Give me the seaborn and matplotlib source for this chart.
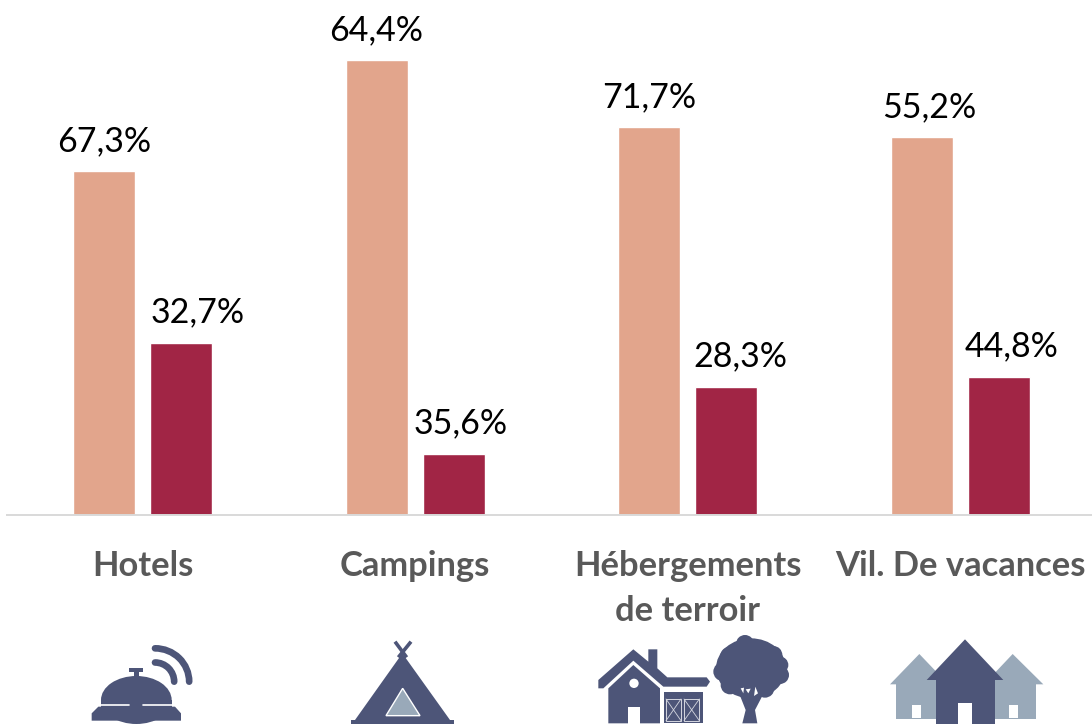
import pandas as pd
import seaborn as sns
import matplotlib.pyplot as plt
from matplotlib.patches import Polygon, Rectangle, Circle, Ellipse, Arc

# --- data ---
categories = ['Hotels', 'Campings', 'Hébergements\nde terroir', 'Vil. De vacances']
series_names = ['Série 1', 'Série 2']
# drawn bar heights (the picture's bars do not follow their printed labels)
heights_1 = [344, 455, 388, 378]
heights_2 = [172, 61, 128, 138]
labels_1 = ['67,3%', '64,4%', '71,7%', '55,2%']
labels_2 = ['32,7%', '35,6%', '28,3%', '44,8%']
# sideways shift of the labels, in pixels
shift_1 = [0, 0, 0, 8]
shift_2 = [16, 7, 14, 13]

df = pd.DataFrame({
    'cat': categories * 2,
    'serie': [series_names[0]] * 4 + [series_names[1]] * 4,
    'val': heights_1 + heights_2,
})

sns.set_theme(style='white')
plt.rcParams['font.family'] = ['Lato', 'DejaVu Sans']

W, H = 1092, 724
fig = plt.figure(figsize=(W / 100, H / 100), dpi=100)

# bar area, in figure fractions
ax = fig.add_axes([6.5 / W, 1 - 514.5 / H, 1090 / W, 514.5 / H])
sns.barplot(data=df, x='cat', y='val', hue='serie', order=categories,
            palette=['#E2A58C', '#A12545'], width=0.568, gap=0.2,
            saturation=1, legend=False, ax=ax)
ax.set_xlim(-0.5, 3.5)
ax.set_ylim(0, 514.5)
ax.set_xlabel('')
ax.set_ylabel('')
ax.set_yticks([])
ax.tick_params(axis='x', length=0, pad=25.6, labelsize=24.8, labelcolor='#595959')
for t in ax.get_xticklabels():
    t.set_fontweight('bold')
    t.set_linespacing(1.5)
sns.despine(ax=ax, left=True)
ax.spines['bottom'].set_color('#D9D9D9')
ax.spines['bottom'].set_linewidth(1.4)
ax.patch.set_alpha(0)

for cont, labs, shifts, up in [(ax.containers[0], labels_1, shift_1, 13),
                               (ax.containers[1], labels_2, shift_2, 14)]:
    for bar, lab, dx in zip(cont, labs, shifts):
        ax.annotate(lab, (bar.get_x() + bar.get_width() / 2, bar.get_height()),
                    xytext=(dx, up), textcoords='offset pixels',
                    ha='center', va='bottom', fontsize=24.5, color='black',
                    annotation_clip=False)

# --- icons, drawn on a pixel overlay ---
dark = '#4D5578'
light = '#99A9B9'
ov = fig.add_axes([0, 0, 1, 1], zorder=5)
ov.set_xlim(0, W)
ov.set_ylim(H, 0)
ov.axis('off')


def z1(pts):
    return [(60 + x / 3, 620 + y / 3) for x, y in pts]


def z2(pts):
    return [(580 + x / 3, 620 + y / 3) for x, y in pts]


def poly(pts, color=dark, **kw):
    ov.add_patch(Polygon(pts, closed=True, fc=color, ec='none', **kw))


def box(z, x0, y0, x1, y1, color=dark):
    poly(z([(x0, y0), (x1, y0), (x1, y1), (x0, y1)]), color)


# bell
poly(z1([(95, 280), (115, 260), (345, 260), (363, 280), (363, 302), (95, 302)]))
ov.add_patch(Ellipse((60 + 229 / 3, 620 + 240 / 3), 212 / 3, 144 / 3, fc=dark, ec='none'))
box(z1, 124, 240, 335, 262)
ov.plot(*zip(*z1([(115, 256), (208, 256)])), color='white', lw=1.2)
ov.plot(*zip(*z1([(250, 256), (350, 256)])), color='white', lw=1.2)
box(z1, 210, 250, 248, 264)
box(z1, 222, 150, 238, 172)
box(z1, 207, 144, 250, 155)
# y axis of the overlay runs downward, so the upper right quadrant is 270-360
ov.add_patch(Arc((60 + 285 / 3, 620 + 185 / 3), 205 / 3, 200 / 3, theta1=270, theta2=360,
                 color=dark, lw=4.8, capstyle='round'))
ov.add_patch(Arc((60 + 285 / 3, 620 + 185 / 3), 115 / 3, 115 / 3, theta1=270, theta2=360,
                 color=dark, lw=4.8, capstyle='round'))

# tent
poly(z1([(1027, 100), (1170, 300), (885, 300)]))
box(z1, 872, 299, 1183, 315)
for a, b in [((1005, 65), (1040, 112)), ((1053, 65), (1015, 112))]:
    ov.plot(*zip(*z1([a, b])), color=dark, lw=2.6, solid_capstyle='butt')
ov.add_patch(Polygon(z1([(1028, 205), (1080, 287), (978, 287)]), closed=True,
                     fc=light, ec='white', lw=1))

# farm house
poly(z2([(85, 205), (160, 135), (240, 205), (240, 310), (85, 310)]))
poly(z2([(55, 180), (160, 88), (205, 125), (205, 88), (232, 88), (232, 145), (262, 172),
         (380, 172), (390, 185), (380, 200), (250, 200), (160, 122), (70, 205), (55, 205)]))
box(z2, 145, 260, 180, 312, 'white')
ov.add_patch(Circle((580 + 162 / 3, 620 + 190 / 3), 14 / 3, fc='white', ec='none'))
box(z2, 252, 215, 370, 310)
for x0, x1 in [(258, 303), (312, 358)]:
    ov.add_patch(Rectangle((580 + x0 / 3, 620 + 237 / 3), (x1 - x0) / 3, 65 / 3,
                           fc='none', ec='#D5D7E0', lw=0.7))
    ov.plot(*zip(*z2([(x0, 237), (x1, 302)])), color='#D5D7E0', lw=0.6)
    ov.plot(*zip(*z2([(x1, 237), (x0, 302)])), color='#D5D7E0', lw=0.6)

# tree
ov.add_patch(Ellipse((580 + 513 / 3, 620 + 145 / 3), 210 / 3, 180 / 3, fc=dark, ec='none'))
crown = [(495, 72, 27), (545, 90, 27), (580, 105, 27), (450, 110, 30), (600, 135, 25),
         (428, 155, 28), (600, 165, 27), (450, 195, 28), (490, 205, 22), (555, 205, 28)]
for cx, cy, r in crown:
    ov.add_patch(Circle((580 + cx / 3, 620 + cy / 3), r / 3, fc=dark, ec='none'))
poly(z2([(478, 222), (550, 222), (525, 270), (532, 310), (487, 310), (497, 270)]))
poly(z2([(482, 205), (492, 203), (490, 220)]), 'white')
poly(z2([(497, 208), (512, 206), (505, 220)]), 'white')
poly(z2([(526, 200), (534, 220), (522, 228)]), 'white')

# holiday village
poly(z2([(930, 193), (1018, 102), (1105, 193)]), light)
box(z2, 948, 192, 1100, 297, light)
box(z2, 995, 255, 1022, 295, 'white')
poly(z2([(1212, 193), (1298, 102), (1390, 193)]), light)
box(z2, 1240, 192, 1367, 297, light)
box(z2, 1288, 255, 1315, 295, 'white')
poly(z2([(1040, 180), (1155, 58), (1270, 180)]))
box(z2, 1068, 179, 1245, 315)
box(z2, 1135, 250, 1175, 315, 'white')

fig.savefig('out.png', dpi=100)
